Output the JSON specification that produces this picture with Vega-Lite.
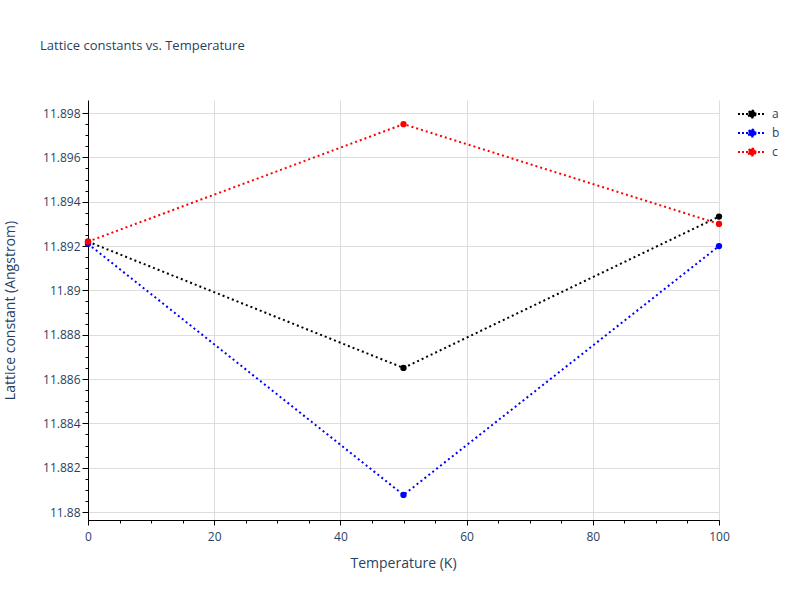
{
  "$schema": "https://vega.github.io/schema/vega-lite/v6.json",
  "width": 631,
  "height": 420,
  "autosize": {"type": "none"},
  "padding": {"left": 88, "top": 100, "right": 81, "bottom": 80},
  "background": "white",
  "title": {
    "text": "Lattice constants vs. Temperature",
    "anchor": "start",
    "frame": "group",
    "dx": -48,
    "offset": 37,
    "baseline": "alphabetic",
    "fontSize": 13,
    "font": "Open Sans",
    "fontWeight": "normal",
    "color": "#2a3f5f"
  },
  "config": {
    "view": {"stroke": null},
    "font": "Open Sans",
    "axis": {
      "labelFont": "Open Sans",
      "titleFont": "Open Sans",
      "labelColor": "#2a3f5f",
      "titleColor": "#2a3f5f",
      "labelFontSize": 12,
      "titleFontSize": 14,
      "titleFontWeight": "normal",
      "domainColor": "#000000",
      "tickColor": "#000000",
      "gridColor": "#dddddd",
      "domainWidth": 1,
      "labelFlush": false,
      "labelOverlap": false
    }
  },
  "data": {
    "values": [
      {"T": 0, "v": 11.8922, "s": "a"},
      {"T": 50, "v": 11.8865, "s": "a"},
      {"T": 100, "v": 11.89333, "s": "a"},
      {"T": 0, "v": 11.8921, "s": "b"},
      {"T": 50, "v": 11.88077, "s": "b"},
      {"T": 100, "v": 11.892, "s": "b"},
      {"T": 0, "v": 11.8922, "s": "c"},
      {"T": 50, "v": 11.8975, "s": "c"},
      {"T": 100, "v": 11.893, "s": "c"}
    ]
  },
  "resolve": {"axis": {"x": "independent", "y": "independent"}},
  "layer": [
    {
      "mark": {"type": "point", "opacity": 0},
      "encoding": {
        "x": {
          "field": "T", "type": "quantitative",
          "scale": {"domain": [0, 100], "nice": false, "zero": false},
          "axis": {"orient": "bottom", "values": [0,5,10,15,20,25,30,35,40,45,50,55,60,65,70,75,80,85,90,95,100], "labels": false, "grid": false, "domain": false, "tickSize": 3, "title": null}
        },
        "y": {
          "field": "v", "type": "quantitative",
          "scale": {"domain": [11.87964, 11.89859], "nice": false, "zero": false},
          "axis": {"orient": "left", "values": [11.8805,11.881,11.8815,11.882,11.8825,11.883,11.8835,11.884,11.8845,11.885,11.8855,11.886,11.8865,11.887,11.8875,11.888,11.8885,11.889,11.8895,11.89,11.8905,11.891,11.8915,11.892,11.8925,11.893,11.8935,11.894,11.8945,11.895,11.8955,11.896,11.8965,11.897,11.8975,11.898], "labels": false, "grid": false, "domain": false, "tickSize": 3, "title": null}
        }
      }
    },
    {
      "mark": {"type": "line", "strokeWidth": 2, "strokeDash": [2, 3]},
      "encoding": {
        "x": {
          "field": "T", "type": "quantitative",
          "scale": {"domain": [0, 100], "nice": false, "zero": false},
          "axis": {"orient": "bottom", "values": [0, 20, 40, 60, 80, 100], "tickSize": 5, "labelPadding": 6, "title": "Temperature (K)", "titleX": 315, "titleY": 43, "titleBaseline": "middle", "grid": true}
        },
        "y": {
          "field": "v", "type": "quantitative",
          "scale": {"domain": [11.87964, 11.89859], "nice": false, "zero": false},
          "axis": {"orient": "left", "values": [11.88, 11.882, 11.884, 11.886, 11.888, 11.89, 11.892, 11.894, 11.896, 11.898], "format": ".3~f", "tickSize": 6, "labelPadding": 2, "title": "Lattice constant (Angstrom)", "titleX": -78, "titleY": 210, "titleBaseline": "middle", "grid": true}
        },
        "color": {
          "field": "s", "type": "nominal",
          "scale": {"domain": ["a", "b", "c"], "range": ["#000000", "#0000ff", "#ff0000"]},
          "legend": {
            "title": null,
            "orient": "none",
            "legendX": 656,
            "legendY": 6,
            "symbolType": "M-2,0H2M0.5,0A0.5,0.5 0 1 1 -0.5,0A0.5,0.5 0 1 1 0.5,0Z",
            "symbolSize": 196,
            "symbolStrokeWidth": 2,
            "symbolDash": [2, 2],
            "labelFontSize": 12,
            "labelColor": "#2a3f5f",
            "labelFont": "Open Sans",
            "labelOffset": 12,
            "rowPadding": 3,
            "encode": {"symbols": {"update": {"fill": {"scale": "color", "field": "value"}, "stroke": {"scale": "color", "field": "value"}}}}
          }
        }
      }
    },
    {
      "mark": {"type": "point", "filled": true, "size": 40, "opacity": 1},
      "encoding": {
        "x": {"field": "T", "type": "quantitative", "scale": {"domain": [0, 100], "nice": false, "zero": false}, "axis": null},
        "y": {"field": "v", "type": "quantitative", "scale": {"domain": [11.87964, 11.89859], "nice": false, "zero": false}, "axis": null},
        "color": {"field": "s", "type": "nominal", "legend": null}
      }
    }
  ]
}
